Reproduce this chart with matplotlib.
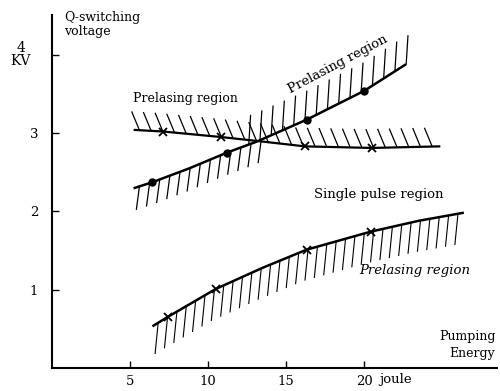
import numpy as np
import matplotlib.pyplot as plt
from matplotlib.collections import LineCollection

plt.rcParams['font.family'] = ['DejaVu Serif']

# upper boundary, rising curve (dots)
rise_x = [5.3, 6.4, 8.8, 11.2, 13.1, 16.3, 20.0, 22.6]
rise_y = [2.30, 2.37, 2.55, 2.75, 2.89, 3.17, 3.54, 3.87]
rise_mx = [6.4, 11.2, 16.3, 20.0]
rise_my = [2.37, 2.75, 3.17, 3.54]

# nearly flat curve (crosses)
flat_x = [5.3, 7.1, 10.8, 13.1, 16.2, 20.5, 24.8]
flat_y = [3.04, 3.02, 2.95, 2.90, 2.83, 2.81, 2.83]
flat_mx = [7.1, 10.8, 16.2, 20.5]
flat_my = [3.02, 2.95, 2.83, 2.81]

# lower curve (crosses)
low_x = [6.5, 7.4, 10.5, 13.5, 16.3, 20.4, 23.5, 26.3]
low_y = [0.54, 0.65, 1.01, 1.28, 1.51, 1.74, 1.88, 1.98]
low_mx = [7.4, 10.5, 16.3, 20.4]
low_my = [0.65, 1.01, 1.51, 1.74]

xticks = [5, 10, 15, 20]
yticks = [1, 2, 3, 4]


def hatch(ax, cx, cy, x0, x1, step, dx, dy, lw=0.9):
    xs = np.arange(x0, x1, step)
    ys = np.interp(xs, cx, cy)
    segs = [[(x, y), (x + dx, y + dy)] for x, y in zip(xs, ys)]
    ax.add_collection(LineCollection(segs, colors='black', linewidths=lw))


fig = plt.figure(figsize=(5, 3.91), dpi=100)
ax = fig.add_axes([0.104, 0.059, 0.89, 0.903])
ax.set_xlim(0, 28.5)
ax.set_ylim(0, 4.51)

# curves
ax.plot(rise_x, rise_y, color='black', lw=1.8)
ax.plot(rise_mx, rise_my, 'o', color='black', ms=5)
ax.plot(flat_x, flat_y, color='black', lw=1.6)
ax.plot(flat_mx, flat_my, 'x', color='black', ms=6, mew=1.3)
ax.plot(low_x, low_y, color='black', lw=1.8)
ax.plot(low_mx, low_my, 'x', color='black', ms=6, mew=1.3)

# hatching
hatch(ax, flat_x, flat_y, 5.6, 24.6, 0.75, -0.5, 0.24)
hatch(ax, rise_x, rise_y, 5.6, 13.5, 0.65, -0.2, -0.3)
hatch(ax, rise_x, rise_y, 12.6, 22.8, 0.72, 0.12, 0.38)
hatch(ax, low_x, low_y, 6.8, 26.4, 0.6, -0.2, -0.4, lw=0.8)

# axes styling
for s in ['top', 'right']:
    ax.spines[s].set_visible(False)
ax.spines['left'].set_linewidth(1.5)
ax.spines['bottom'].set_linewidth(1.5)
ax.set_xticks(xticks)
ax.set_xticklabels(['5', '10', '15', '20'])
ax.set_yticks(yticks)
ax.set_yticklabels(['1', '2', '3', ''])
ax.tick_params(direction='in', length=5, width=1, labelsize=9.5, pad=10)
ax.tick_params(axis='x', pad=5)

# text
ax.text(-2.0, 4.0, '4\nKV', ha='center', va='center', fontsize=10,
        linespacing=0.9, multialignment='center')
ax.text(0.8, 4.56, 'Q-switching\nvoltage', ha='left', va='top', fontsize=9, linespacing=1.15)
ax.text(22.0, -0.07, 'joule', ha='center', va='top', fontsize=9.5)
ax.text(28.4, 0.1, 'Pumping\nEnergy', ha='right', va='bottom', fontsize=9, linespacing=1.45)
ax.text(5.2, 3.44, 'Prelasing region', ha='left', va='center', fontsize=9)
ax.text(18.3, 3.88, 'Prelasing region', ha='center', va='center', fontsize=9.5,
        rotation=28, rotation_mode='anchor')
ax.text(20.9, 2.22, 'Single pulse region', ha='center', va='center', fontsize=9.5)
ax.text(23.2, 1.24, 'Prelasing region', ha='center', va='center', fontsize=9.5,
        style='italic')

fig.savefig('out.png', dpi=100)
